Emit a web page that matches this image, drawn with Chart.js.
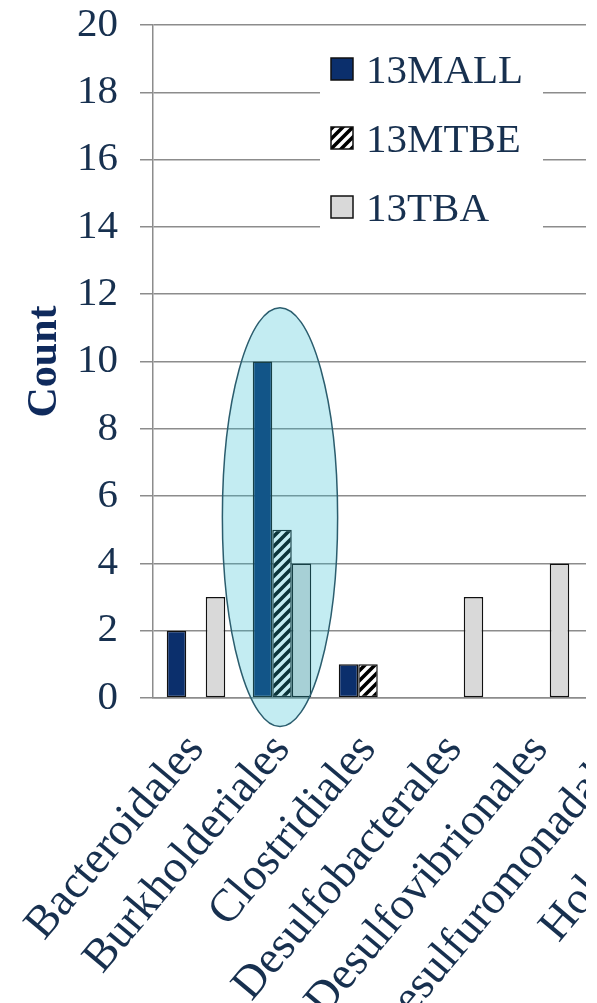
<!DOCTYPE html>
<html>
<head>
<meta charset="utf-8">
<script src="https://cdn.jsdelivr.net/npm/chart.js@4/dist/chart.umd.min.js"></script>
<style>
  html, body { margin: 0; padding: 0; background: #ffffff; }
  #wrap { width: 586px; height: 1003px; overflow: hidden; position: relative; }
  canvas { display: block; }
</style>
</head>
<body>
<div id="wrap"><canvas id="c" width="760" height="1003"></canvas></div>
<script>
// ---- data ----
const categories = ['Bacteroidales', 'Burkholderiales', 'Clostridiales', 'Desulfobacterales',
                    'Desulfovibrionales', 'Desulfuromonadales', 'Holophagales'];
const seriesNames = ['13MALL', '13MTBE', '13TBA'];
const mallValues = [2, 10, 1, 0, 0, null, null];
const mtbeValues = [0, 5, 1, 0, 0, null, null];
const tbaValues  = [3, 4, 0, 3, 4, null, null];
const yTickValues = [0, 2, 4, 6, 8, 10, 12, 14, 16, 18, 20];
const axisTitle = 'Count';
// highlighted group (ellipse annotation): category index and value span
const highlightCategory = 1;
const highlightSpan = [-0.85, 11.6];

Chart.defaults.devicePixelRatio = 1;

function makeHatch() {
  const s = 10;
  const c = document.createElement('canvas');
  c.width = s; c.height = s;
  const x = c.getContext('2d');
  x.fillStyle = '#ffffff';
  x.fillRect(0, 0, s, s);
  x.strokeStyle = '#000000';
  x.lineWidth = 3.6;
  x.beginPath();
  x.moveTo(-2, s + 2); x.lineTo(s + 2, -2);
  x.moveTo(-3, 3); x.lineTo(3, -3);
  x.moveTo(s - 3, s + 3); x.lineTo(s + 3, s - 3);
  x.stroke();
  return x.createPattern(c, 'repeat');
}
const hatch = makeHatch();
const colors = ['#0b2f6c', hatch, '#d9d9d9'];
const navyText = '#17304f';

const ellipsePlugin = {
  id: 'ellipse',
  afterDatasetsDraw(chart) {
    const xs = chart.scales.x, ys = chart.scales.y, ctx = chart.ctx;
    const cx = xs.getPixelForValue(highlightCategory) - 2;
    const top = ys.getPixelForValue(highlightSpan[1]);
    const bot = ys.getPixelForValue(highlightSpan[0]);
    const cy = (top + bot) / 2, ry = (bot - top) / 2;
    const rx = (xs.getPixelForValue(1) - xs.getPixelForValue(0)) * 0.67;
    ctx.save();
    ctx.beginPath();
    ctx.ellipse(cx, cy, rx, ry, 0, 0, Math.PI * 2);
    ctx.fillStyle = 'rgba(40,185,210,0.28)';
    ctx.fill();
    ctx.lineWidth = 1.5;
    ctx.strokeStyle = '#2b5d6e';
    ctx.stroke();
    ctx.restore();
  }
};

const legendPlugin = {
  id: 'insideLegend',
  afterDraw(chart) {
    const ctx = chart.ctx, a = chart.chartArea;
    const bx = a.left + 167, by = a.top + 20;
    ctx.save();
    ctx.fillStyle = '#ffffff';
    ctx.fillRect(bx, by, 223, 196);
    ctx.font = '41px "Liberation Serif", "Times New Roman", serif';
    ctx.textBaseline = 'alphabetic';
    seriesNames.forEach((name, i) => {
      const yc = a.top + 44 + i * 69;
      ctx.fillStyle = colors[i];
      ctx.fillRect(bx + 11, yc - 11, 22, 22);
      ctx.lineWidth = 1.5;
      ctx.strokeStyle = '#111111';
      ctx.strokeRect(bx + 11, yc - 11, 22, 22);
      ctx.fillStyle = navyText;
      ctx.fillText(name, bx + 46, yc + 14);
    });
    ctx.restore();
  }
};

new Chart(document.getElementById('c'), {
  type: 'bar',
  data: {
    labels: categories,
    datasets: [
      { label: seriesNames[0], data: mallValues, backgroundColor: colors[0] },
      { label: seriesNames[1], data: mtbeValues, backgroundColor: colors[1] },
      { label: seriesNames[2], data: tbaValues,  backgroundColor: colors[2] }
    ]
  },
  options: {
    responsive: false,
    animation: false,
    layout: { padding: { top: 25, right: 5, left: 0, bottom: 0 } },
    datasets: {
      bar: {
        categoryPercentage: 0.68,
        barPercentage: 1.0,
        borderColor: '#111111',
        borderWidth: (c) => (c.raw ? 1.5 : 0),
        borderSkipped: false
      }
    },
    plugins: { legend: { display: false }, tooltip: { enabled: false } },
    scales: {
      x: {
        grid: { display: false, drawTicks: false },
        border: { display: true, color: '#8c8c8c', width: 1.5 },
        ticks: {
          autoSkip: false,
          minRotation: 50, maxRotation: 50,
          padding: 26,
          color: navyText,
          font: { family: '"Liberation Serif", "Times New Roman", serif', size: 46 }
        },
        afterFit(scale) {
          scale.height = 305;
          scale.paddingLeft = 0; scale.paddingRight = 0;
        }
      },
      y: {
        min: 0, max: 20,
        afterBuildTicks(scale) { scale.ticks = yTickValues.map(v => ({ value: v })); },
        grid: { color: '#8c8c8c', lineWidth: 1.5, tickLength: 13, drawTicks: true },
        border: { display: true, color: '#8c8c8c', width: 1.5 },
        ticks: {
          autoSkip: false,
          padding: 22,
          color: navyText,
          font: { family: '"Liberation Serif", "Times New Roman", serif', size: 41 }
        },
        title: {
          display: true,
          text: axisTitle,
          color: '#0f2a5c',
          padding: { top: 20, bottom: 0 },
          font: { family: '"Liberation Serif", "Times New Roman", serif', size: 42, weight: 'bold' }
        },
        afterFit(scale) {
          scale.width = 153;
          scale.paddingTop = 0; scale.paddingBottom = 0;
        }
      }
    }
  },
  plugins: [ellipsePlugin, legendPlugin]
});
</script>
</body>
</html>
